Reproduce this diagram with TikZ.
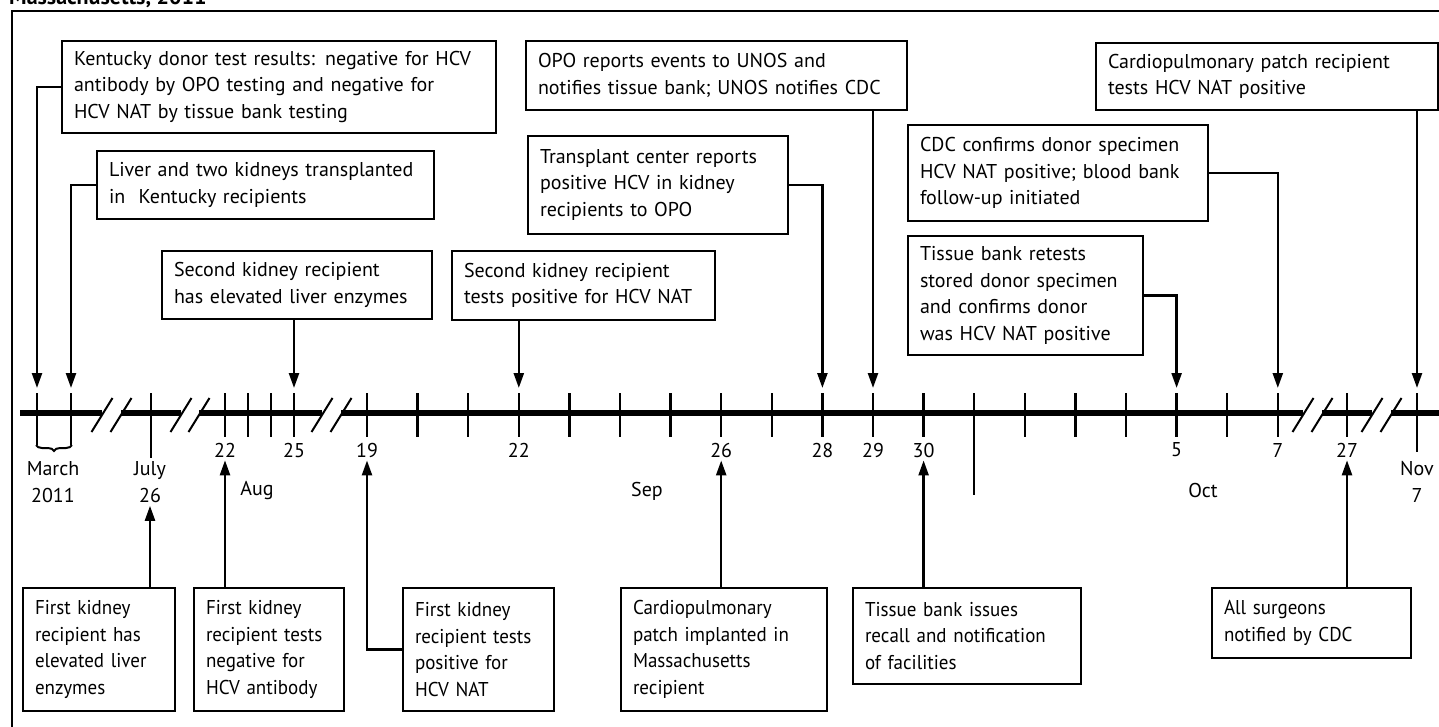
\documentclass[tikz,border=0pt]{standalone}
\usepackage{fontspec}
\setmainfont{PT Sans}
\newfontfamily\condsans[FakeStretch=0.95]{PT Sans}
\usetikzlibrary{arrows.meta, decorations.pathreplacing}

\begin{document}
\begin{tikzpicture}[x = 1pt, y = -1pt,
		evbox/.style = {draw, line width = 2pt, inner xsep = 12pt, inner ysep = 0pt, align = left, anchor = north west, font = \fontsize{20}{26.5}\selectfont},
		lowbox/.style = {evbox, font = \condsans\fontsize{20}{26.5}\selectfont},
		evt/.style = {line width = 2.4pt, -{Triangle[length = 15pt, width = 10pt]}},
		tick/.style = {line width = 2.4pt},
		datelab/.style = {font = \fontsize{20}{27}\selectfont, inner sep = 3pt, align = center}]
	\useasboundingbox (0,0) rectangle (1439,727);

	\node [anchor = base west, inner sep = 0pt, font = \bfseries\fontsize{22}{26}\selectfont] (title) at (9,5) {Massachusetts, 2011};
	\draw [line width = 2pt] (12,745) -- (12,11) -- (1450,11);

	% time axis with breaks
	\draw [line width = 6pt] (20,413) -- (102,413) (121,413) -- (181,413) (199,413) -- (322,413)
		(341,413) -- (1303,413) (1322,413) -- (1372,413) (1391,413) -- (1445,413);
	\foreach \c in {102,121,181,199,322,341,1303,1322,1372,1391}
	{
		\draw [line width = 2pt] ({\c-10.5},432) -- ({\c+10.5},398);
	}

	\foreach \x/\b in {37/445, 71/445, 151/458, 225/437, 248/437, 271/437, 294/437, 1347/437, 1417/452}
	{
		\draw [tick] (\x,393) -- (\x,\b);
	}
	\foreach \k in {0,...,18}
	{
		\draw [tick] ({367+50.6*\k},393) -- ++(0,44);
	}
	\draw [tick] (974.2,437) -- (974.2,495);
	\draw [line width = 2pt, decorate, decoration = {brace, amplitude = 6pt, mirror}] (36,445) -- (72,445);

	% dates
	\node [datelab] (mar) at (53,482) {March\\2011};
	\node [datelab] (jul26) at (150,482) {July\\26};
	\node [datelab] (aug22) at (225,450) {22};
	\node [datelab] (aug25) at (294,450) {25};
	\node [datelab] (sep19) at (367,450) {19};
	\node [datelab] (sep22) at (518.8,450) {22};
	\node [datelab] (sep26) at (721.2,450) {26};
	\node [datelab] (sep28) at (822.4,450) {28};
	\node [datelab] (sep29) at (873,450) {29};
	\node [datelab] (sep30) at (923.6,450) {30};
	\node [datelab] (oct5) at (1176.6,450) {5};
	\node [datelab] (oct7) at (1277.8,450) {7};
	\node [datelab] (oct27) at (1347,450) {27};
	\node [datelab] (nov7) at (1417,482) {Nov\\7};
	\node [datelab] (aug) at (257,491) {Aug};
	\node [datelab] (sep) at (647,491) {Sep};
	\node [datelab] (oct) at (1203,490) {Oct};

	% arrow targets on the axis
	\coordinate (m1) at (37,388);
	\coordinate (m2) at (71,388);
	\coordinate (a25) at (294,388);
	\coordinate (s22) at (518.8,388);
	\coordinate (s28) at (822.4,388);
	\coordinate (s29) at (873,388);
	\coordinate (o5) at (1176.6,388);
	\coordinate (o7) at (1277.8,388);
	\coordinate (n7) at (1417,388);

	% events above the axis
	\node [evbox, text width = 410pt, minimum height = 92pt] (kyres) at (61,40) {Kentucky donor test results: negative for HCV\\antibody by OPO testing and negative for\\HCV NAT by tissue bank testing};
	\node [evbox, text width = 313pt, minimum height = 68pt] (ltx) at (96,150) {Liver and two kidneys transplanted\\in~ Kentucky recipients};
	\node [evbox, text width = 246pt, minimum height = 68pt] (skenz) at (161,250) {Second kidney recipient\\has elevated liver enzymes};
	\node [evbox, text width = 239pt, minimum height = 69pt] (skpos) at (451,250) {Second kidney recipient\\tests positive for HCV NAT};
	\node [evbox, text width = 357pt, minimum height = 69pt] (oporep) at (525,40) {OPO reports events to UNOS and\\notifies tissue bank; UNOS notifies CDC};
	\node [evbox, text width = 236pt, minimum height = 98pt] (tcrep) at (527,135) {Transplant center reports\\positive HCV in kidney\\recipients to OPO};
	\node [evbox, text width = 318pt, minimum height = 67pt] (cprec) at (1095,42) {Cardiopulmonary patch recipient\\tests HCV NAT positive};
	\node [evbox, text width = 276pt, minimum height = 96pt] (cdcconf) at (907,124) {CDC confirms donor specimen\\HCV NAT positive; blood bank\\follow-up initiated};
	\node [evbox, text width = 211pt, minimum height = 119pt] (tbret) at (907,235) {Tissue bank retests\\stored donor specimen\\and confirms donor\\was HCV NAT positive};

	\draw [evt] (kyres.west) -| (m1);
	\draw [evt] (ltx.west) -| (m2);
	\draw [evt] (skenz.south -| a25) -- (a25);
	\draw [evt] (skpos.south -| s22) -- (s22);
	\draw [evt] (oporep.south -| s29) -- (s29);
	\draw [evt] (tcrep.east) -| (s28);
	\draw [evt] (cprec.south -| n7) -- (n7);
	\draw [evt] (cdcconf.east) -| (o7);
	\draw [evt] (tbret.east) -| (o5);

	% events below the axis
	\node [lowbox, text width = 128pt, minimum height = 123pt] (kenz) at (22,587) {First kidney\\recipient has\\elevated liver\\enzymes};
	\node [lowbox, text width = 126pt, minimum height = 123pt] (kneg) at (193,587) {First kidney\\recipient tests\\negative for\\HCV antibody};
	\node [lowbox, text width = 127pt, minimum height = 123pt] (kpos) at (402,587) {First kidney\\recipient tests\\positive for\\HCV NAT};
	\node [lowbox, text width = 182pt, minimum height = 123pt] (cpimp) at (620,587) {Cardiopulmonary\\patch implanted in\\Massachusetts\\recipient};
	\node [lowbox, text width = 204pt, minimum height = 96pt] (tbrec) at (852,587) {Tissue bank issues\\recall and notification\\of facilities};
	\node [lowbox, text width = 175pt, minimum height = 70pt] (surg) at (1211,587) {All surgeons\\notified by CDC};

	\draw [evt] (kenz.north -| jul26.south) -- (jul26.south);
	\draw [evt] (kneg.north -| aug22.south) -- (aug22.south);
	\draw [evt] (kpos.west) -| (sep19.south);
	\draw [evt] (cpimp.north -| sep26.south) -- (sep26.south);
	\draw [evt] (tbrec.north -| sep30.south) -- (sep30.south);
	\draw [evt] (surg.north -| oct27.south) -- (oct27.south);
\end{tikzpicture}
\end{document}
